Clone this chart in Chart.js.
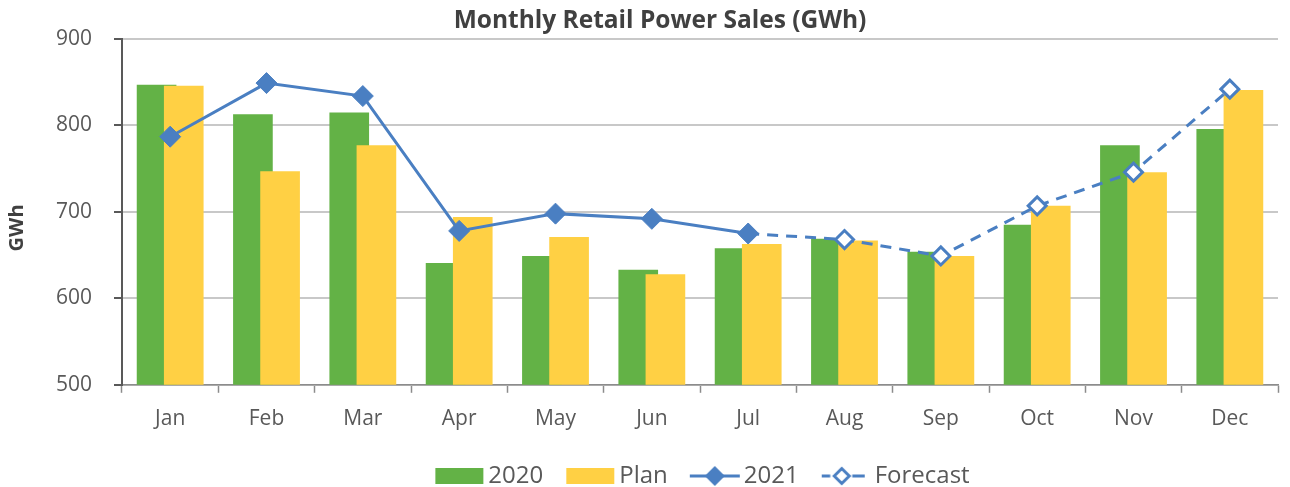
<!DOCTYPE html>
<html>
<head>
<meta charset="utf-8">
<script src="https://cdn.jsdelivr.net/npm/chart.js@4.4.1/dist/chart.umd.min.js"></script>
<style>
  html, body { margin: 0; padding: 0; background: #fff; }
</style>
</head>
<body>
<canvas id="chart" width="1290" height="487"></canvas>
<script>
// values
const months = ['Jan', 'Feb', 'Mar', 'Apr', 'May', 'Jun', 'Jul', 'Aug', 'Sep', 'Oct', 'Nov', 'Dec'];
const sales2020 = [847, 813, 815, 641, 649, 633, 658, 669, 654, 685, 777, 796];
const plan = [846, 747, 777, 694, 671, 628, 663, 667, 649, 707, 746, 841];
const actual2021 = [787, 849, 834, 678, 698, 692, 675, null, null, null, null, null];
const forecast = [null, null, null, null, null, null, 675, 668, 649, 707, 746, 842];
const yTicks = [500, 600, 700, 800, 900];

const GREEN = '#63B246';
const YELLOW = '#FFD044';
const BLUE = '#4A7FC2';
const TEXT = '#595959';

Chart.defaults.font.family = "'Open Sans', 'Noto Sans', sans-serif";

// small pictures for the legend symbols
function symbol(draw) {
  const c = document.createElement('canvas');
  c.width = 70;
  c.height = 24;
  draw(c.getContext('2d'));
  return c;
}
const boxIcon = color => symbol(g => { g.fillStyle = color; g.fillRect(17, 4, 48, 16); });
const lineIcon = symbol(g => {
  g.strokeStyle = BLUE; g.lineWidth = 3;
  g.beginPath(); g.moveTo(16, 12); g.lineTo(66, 12); g.stroke();
  g.fillStyle = BLUE;
  g.beginPath(); g.moveTo(31, 12); g.lineTo(41, 2); g.lineTo(51, 12); g.lineTo(41, 22); g.closePath(); g.fill();
});
const forecastIcon = symbol(g => {
  g.strokeStyle = BLUE; g.lineWidth = 3;
  g.beginPath(); g.moveTo(17, 12); g.lineTo(25.5, 12); g.moveTo(47.5, 12); g.lineTo(60, 12); g.stroke();
  g.fillStyle = '#fff';
  g.beginPath(); g.moveTo(29.5, 12); g.lineTo(37, 4.5); g.lineTo(44.5, 12); g.lineTo(37, 19.5); g.closePath();
  g.fill(); g.stroke();
});
const icons = [boxIcon(GREEN), boxIcon(YELLOW), lineIcon, forecastIcon];

// Plan bars overlap the 2020 bars, so draw them right after the 2020 bars
const planOnTop = {
  id: 'planOnTop',
  beforeDatasetDraw(chart, args) {
    if (args.index === 1) return false;
  },
  afterDatasetDraw(chart, args) {
    if (args.index !== 0) return;
    const {ctx, chartArea: a} = chart;
    ctx.save();
    ctx.beginPath();
    ctx.rect(a.left, a.top, a.right - a.left, a.bottom - a.top);
    ctx.clip();
    chart.getDatasetMeta(1).controller.draw();
    ctx.restore();
  }
};

// y axis title, a little below the middle of the plot like the original
const yTitle = {
  id: 'yTitle',
  afterDraw(chart) {
    const {ctx, chartArea: a} = chart;
    ctx.save();
    ctx.translate(17, (a.top + a.bottom) / 2 + 16);
    ctx.rotate(-Math.PI / 2);
    ctx.font = "bold 20px 'Open Sans', 'Noto Sans', sans-serif";
    ctx.fillStyle = '#404040';
    ctx.textAlign = 'center';
    ctx.textBaseline = 'middle';
    ctx.fillText('GWh', 0, 0);
    ctx.restore();
  }
};

const joinIndex = forecast.findIndex(v => v !== null);

new Chart(document.getElementById('chart'), {
  type: 'bar',
  data: {
    labels: months,
    datasets: [
      {
        label: '2020', data: sales2020, backgroundColor: GREEN, order: 2,
        categoryPercentage: 0.564, barPercentage: 1.46
      },
      {
        label: 'Plan', data: plan, backgroundColor: YELLOW, order: 2,
        categoryPercentage: 0.564, barPercentage: 1.46
      },
      {
        type: 'line', label: '2021', data: actual2021, order: 0,
        borderColor: BLUE, backgroundColor: BLUE, borderWidth: 3, tension: 0,
        pointStyle: 'rectRot', pointRadius: 10.5, pointBorderWidth: 1,
        pointBackgroundColor: BLUE, pointBorderColor: BLUE
      },
      {
        type: 'line', label: 'Forecast', data: forecast, order: 1,
        borderColor: BLUE, backgroundColor: '#fff', borderWidth: 3, borderDash: [11, 8], tension: 0,
        pointStyle: 'rectRot', pointRadius: ctx => ctx.dataIndex === joinIndex ? 0 : 9,
        pointBorderWidth: 3, pointBackgroundColor: '#fff', pointBorderColor: BLUE
      }
    ]
  },
  options: {
    responsive: false,
    animation: false,
    layout: { padding: { left: 40, right: 10, top: 0, bottom: -11 } },
    scales: {
      x: {
        offset: true,
        grid: { offset: true, drawOnChartArea: false, tickLength: 8, tickColor: '#8c8c8c', tickWidth: 1.5 },
        border: { color: '#8c8c8c', width: 1.5 },
        ticks: { color: TEXT, font: { size: 21 }, padding: 14 }
      },
      y: {
        min: 500, max: 900,
        afterBuildTicks: scale => { scale.ticks = yTicks.map(v => ({ value: v })); },
        grid: { color: '#c8c8c8', lineWidth: 2, tickLength: 8, tickColor: '#595959', tickWidth: 2 },
        border: { color: '#595959', width: 2 },
        ticks: { color: TEXT, font: { size: 21 }, padding: 22 },
        afterFit: scale => { scale.width = 82; }
      }
    },
    plugins: {
      title: {
        display: true, text: 'Monthly Retail Power Sales (GWh)', color: '#404040',
        font: { size: 24.5, weight: 'bold' }, padding: { top: 6, bottom: 3.6 }
      },
      legend: {
        position: 'bottom', fullSize: false,
        labels: {
          usePointStyle: true, pointStyleWidth: 46, padding: 18, color: TEXT, font: { size: 24 },
          generateLabels: chart => chart.data.datasets.map((ds, i) => ({
            text: ds.label, pointStyle: icons[i], fillStyle: 'transparent', strokeStyle: 'transparent',
            lineWidth: 0, fontColor: TEXT, hidden: false, datasetIndex: i
          }))
        }
      },
      tooltip: { enabled: false }
    }
  },
  plugins: [planOnTop, yTitle]
});
</script>
</body>
</html>
